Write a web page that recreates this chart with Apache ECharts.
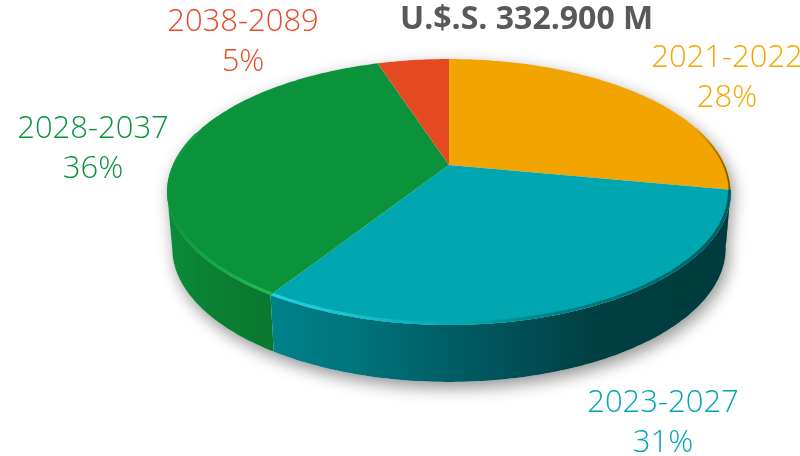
<!DOCTYPE html>
<html>
<head>
<meta charset="utf-8">
<style>
  html,body{margin:0;padding:0;background:#fff;}
  #chart{width:800px;height:456px;}
</style>
<script src="https://cdn.jsdelivr.net/npm/echarts@6/dist/echarts.min.js"></script>
</head>
<body>
<div id="chart"></div>
<script>
  // data
  const totalLabel = 'U.$.S. 332.900 M';
  const periods = ['2021-2022', '2023-2027', '2028-2037', '2038-2089'];
  const shares = [28, 31, 36, 5];

  // colours, same order as periods
  const faceColors = ['#f2a500', '#00a7b0', '#0b933b', '#e44a22'];
  const labelColors = ['#f3a800', '#00a7b0', '#0b933b', '#e64a26'];
  const wallStops = [
    [[0, '#7a5200'], [1, '#6b4800']],
    [[0, '#00828c'], [0.2, '#00727a'], [0.42, '#005a62'], [0.6, '#004a50'], [0.7, '#003f42'], [1, '#003c3f']],
    [[0, '#0a8c3a'], [0.4, '#0b8034'], [1, '#0b7730']],
    [[0, '#a83a1a'], [1, '#a83a1a']]
  ];
  const rimStops = [
    [[0, '#f2a500'], [0.5, '#b07a00'], [1, '#7a5200']],
    [[0, '#1cd4e2'], [0.15, '#17c8d4'], [0.3, '#08b4be'], [0.42, '#00a7b0'], [0.56, '#00888f'], [1, '#005c60']],
    [[0, '#0b933b'], [0.3, '#0ea545'], [1, '#22bb58']],
    [[0, '#e44a22'], [1, '#e44a22']]
  ];
  const labelPos = [[727, 78], [663, 423], [93, 149], [243, 42]];

  // perspective of the disc: apex of the slices and how the circle is tilted
  const APEX_X = 449, APEX_Y = 165;
  const RX = 276, RY = 127.5, TILT = 0.203;
  const DEPTH = 56, BOTTOM_SX = 0.982, BOTTOM_SY = 1.006;
  // the wall only shows between the two side tangents of the disc
  const WALL_FROM = 99, WALL_TO = 258;

  // deg is clockwise from north, level 0 = top face, 1 = bottom face
  function project(deg, level) {
    const a = deg * Math.PI / 180;
    const u = Math.sin(a), v = Math.cos(a);
    const d = 1 + TILT * v;
    const sx = level ? BOTTOM_SX : 1, sy = level ? BOTTOM_SY : 1;
    return [APEX_X + RX * sx * u / d, APEX_Y + (level ? DEPTH : 0) - RY * sy * v / d];
  }
  function arc(from, to, level) {
    const pts = [];
    const n = Math.max(2, Math.ceil(Math.abs(to - from)));
    for (let i = 0; i <= n; i++) pts.push(project(from + (to - from) * i / n, level));
    return pts;
  }
  function hGrad(pts, stops) {
    const xs = pts.map(p => p[0]);
    return {
      type: 'linear', global: true,
      x: Math.min.apply(null, xs), y: 0, x2: Math.max.apply(null, xs), y2: 0,
      colorStops: stops.map(s => ({offset: s[0], color: s[1]}))
    };
  }

  const starts = [];
  let acc = 0;
  for (let s of shares) {
    starts.push(acc * 3.6);
    acc += s;
  }
  const rows = periods.map((p, i) => [i, shares[i]]);

  function renderShadow() {
    const foot = arc(WALL_FROM, WALL_TO, 1).concat(arc(WALL_TO, 360 + WALL_FROM, 0));
    return {
      type: 'polygon',
      shape: {points: foot},
      style: {fill: '#fff', shadowColor: 'rgba(0,0,0,0.42)', shadowBlur: 16, shadowOffsetX: 3, shadowOffsetY: 6}
    };
  }
  function renderWall(params, api) {
    const i = api.value(0);
    const from = Math.max(starts[i], WALL_FROM), to = Math.min(starts[i] + api.value(1) * 3.6, WALL_TO);
    if (to <= from) return null;
    const pts = arc(from, to, 0).concat(arc(to, from, 1));
    return {type: 'polygon', shape: {points: pts}, style: {fill: hGrad(pts, wallStops[i])}};
  }
  function renderFace(params, api) {
    const i = api.value(0);
    const from = starts[i], to = from + api.value(1) * 3.6;
    const outer = arc(from, to, 0);
    const children = [{
      type: 'polygon',
      shape: {points: [[APEX_X, APEX_Y]].concat(outer)},
      style: {fill: faceColors[i]}
    }];
    // soft bevel along the front edge of the disc, pulled a bit toward the apex
    const rFrom = Math.max(from, 72), rTo = Math.min(to, 285);
    if (rTo > rFrom) {
      const rim = arc(rFrom, rTo, 0).map(p => [
        APEX_X + (p[0] - APEX_X) * 0.995,
        APEX_Y + (p[1] - APEX_Y) * 0.99
      ]);
      children.push({
        type: 'polyline',
        shape: {points: rim},
        style: {fill: null, lineWidth: i === 0 ? 1.5 : 3, stroke: hGrad(rim, rimStops[i]), shadowBlur: 2, shadowColor: 'rgba(0,0,0,0.08)'}
      });
    }
    return {type: 'group', children: children};
  }
  function renderLabel(params, api) {
    const i = api.value(0);
    return {
      type: 'text',
      x: labelPos[i][0], y: labelPos[i][1],
      style: {
        text: periods[i] + '\n' + api.value(1) + '%',
        fill: labelColors[i],
        font: '300 31px "Open Sans"',
        lineHeight: 40,
        align: 'center',
        verticalAlign: 'middle'
      }
    };
  }

  const layer = (render, z, data) => ({
    type: 'custom', coordinateSystem: 'none', renderItem: render, data: data, z: z, silent: true
  });

  const myChart = echarts.init(document.getElementById('chart'), null, {renderer: 'canvas'});
  myChart.setOption({
    animation: false,
    backgroundColor: '#fff',
    title: {
      text: totalLabel,
      left: 395, top: -1,
      textStyle: {color: '#58595b', fontFamily: 'Open Sans', fontWeight: 'bold', fontSize: 32}
    },
    series: [
      layer(renderShadow, 1, [[0]]),
      layer(renderWall, 2, rows),
      layer(renderFace, 3, rows),
      layer(renderLabel, 4, rows)
    ]
  });
</script>
</body>
</html>
